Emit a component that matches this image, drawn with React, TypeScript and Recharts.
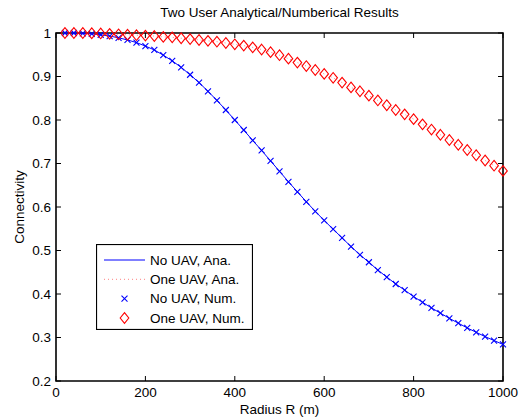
import React from 'react';
import { LineChart, Line, XAxis, YAxis, ReferenceArea, Legend } from 'recharts';

const radius = [
  20, 40, 60, 80, 100, 120, 140, 160, 180, 200,
  220, 240, 260, 280, 300, 320, 340, 360, 380, 400,
  420, 440, 460, 480, 500, 520, 540, 560, 580, 600,
  620, 640, 660, 680, 700, 720, 740, 760, 780, 800,
  820, 840, 860, 880, 900, 920, 940, 960, 980, 1000,
];

const noUav = [
  1.0, 1.0, 0.999, 0.998, 0.996, 0.993, 0.989, 0.984, 0.978, 0.970,
  0.961, 0.949, 0.936, 0.921, 0.904, 0.886, 0.866, 0.845, 0.823, 0.800,
  0.777, 0.753, 0.730, 0.706, 0.682, 0.658, 0.635, 0.612, 0.590, 0.569,
  0.549, 0.529, 0.509, 0.490, 0.473, 0.455, 0.439, 0.423, 0.409, 0.394,
  0.381, 0.368, 0.356, 0.344, 0.333, 0.322, 0.312, 0.302, 0.293, 0.284,
];

const oneUav = [
  1.0, 1.0, 1.0, 0.9995, 0.999, 0.998, 0.997, 0.996, 0.995, 0.994,
  0.993, 0.991, 0.990, 0.988, 0.986, 0.984, 0.982, 0.980, 0.977, 0.974,
  0.971, 0.967, 0.962, 0.956, 0.949, 0.941, 0.932, 0.924, 0.915, 0.906,
  0.897, 0.886, 0.875, 0.866, 0.856, 0.845, 0.834, 0.823, 0.813, 0.802,
  0.790, 0.778, 0.766, 0.754, 0.743, 0.731, 0.719, 0.707, 0.695, 0.683,
];

const xTicks = [0, 200, 400, 600, 800, 1000];
const yTicks = [0.2, 0.3, 0.4, 0.5, 0.6, 0.7, 0.8, 0.9, 1];

const titleText = 'Two User Analytical/Numberical Results';
const xLabel = 'Radius R (m)';
const yLabel = 'Connectivity';
const seriesNames = ['No UAV, Ana.', 'One UAV, Ana.', 'No UAV, Num.', 'One UAV, Num.'];

const data = radius.map((r, i) => ({ r, noUav: noUav[i], oneUav: oneUav[i] }));

const W = 522;
const H = 419;
const PLOT_LEFT = 56;
const PLOT_RIGHT = 503;
const PLOT_TOP = 33;
const PLOT_BOTTOM = 381;
const FONT = '"Liberation Sans", Arial, Helvetica, sans-serif';
const FS = 13.5;
const BLUE = '#0000ff';
const RED = '#ff0000';
const TICK_LEN = 5;

const crossPath = (cx: number, cy: number, s: number) =>
  `M${cx - s},${cy - s}L${cx + s},${cy + s}M${cx - s},${cy + s}L${cx + s},${cy - s}`;
const diamondPath = (cx: number, cy: number, w: number, h: number) =>
  `M${cx},${cy - h}L${cx + w},${cy}L${cx},${cy + h}L${cx - w},${cy}Z`;

const CrossDot = (props: any) => {
  const { cx, cy, index } = props;
  if (cx == null || cy == null) return <g key={`x-${index}`} />;
  return <path key={`x-${index}`} d={crossPath(cx, cy, 3)} stroke={BLUE} strokeWidth={1.1} fill="none" />;
};

const DiamondDot = (props: any) => {
  const { cx, cy, index } = props;
  if (cx == null || cy == null) return <g key={`d-${index}`} />;
  return <path key={`d-${index}`} d={diamondPath(cx, cy, 4.3, 5.3)} stroke={RED} strokeWidth={1.1} fill="none" />;
};

const XTick = (props: any) => {
  const { x, payload } = props;
  return (
    <g>
      <line x1={x} x2={x} y1={PLOT_BOTTOM} y2={PLOT_BOTTOM - TICK_LEN} stroke="#000" strokeWidth={1} />
      <line x1={x} x2={x} y1={PLOT_TOP} y2={PLOT_TOP + TICK_LEN} stroke="#000" strokeWidth={1} />
      <text x={x} y={PLOT_BOTTOM + 15.5} textAnchor="middle" fontFamily={FONT} fontSize={FS} fill="#000">
        {String(payload.value)}
      </text>
    </g>
  );
};

const YTick = (props: any) => {
  const { x, y, payload } = props;
  return (
    <g>
      <line x1={PLOT_LEFT} x2={PLOT_LEFT + TICK_LEN} y1={y} y2={y} stroke="#000" strokeWidth={1} />
      <line x1={PLOT_RIGHT} x2={PLOT_RIGHT - TICK_LEN} y1={y} y2={y} stroke="#000" strokeWidth={1} />
      <text x={x} y={y + 4.8} textAnchor="end" fontFamily={FONT} fontSize={FS} fill="#000">
        {String(payload.value)}
      </text>
    </g>
  );
};

const LegendBox = () => {
  const w = 156;
  const h = 85;
  const rows = [16, 35.3, 54.6, 74];
  const lx1 = 8;
  const lx2 = 49;
  const mx = 28.5;
  const tx = 54;
  return (
    <svg width={w + 1} height={h + 1} style={{ display: 'block' }}>
      <rect x={0.5} y={0.5} width={w} height={h} fill="#fff" stroke="#000" strokeWidth={1.2} />
      <line x1={lx1} x2={lx2} y1={rows[0]} y2={rows[0]} stroke={BLUE} strokeWidth={1} />
      <line x1={lx1} x2={lx2} y1={rows[1]} y2={rows[1]} stroke={RED} strokeOpacity={0.5} strokeWidth={1} strokeDasharray="1 3" />
      <path d={crossPath(mx, rows[2], 3)} stroke={BLUE} strokeWidth={1.1} fill="none" />
      <path d={diamondPath(mx, rows[3], 4.3, 5.3)} stroke={RED} strokeWidth={1.1} fill="none" />
      {seriesNames.map((n, i) => (
        <text key={n} x={tx} y={rows[i] + 4.8} fontFamily={FONT} fontSize={FS} fill="#000">
          {n}
        </text>
      ))}
    </svg>
  );
};

export default function App() {
  return (
    <div style={{ position: 'absolute', left: 0, top: 0, width: W, height: H, background: '#fff' }}>
      <div
        style={{
          position: 'absolute',
          left: PLOT_LEFT,
          width: PLOT_RIGHT - PLOT_LEFT,
          top: 4,
          lineHeight: '17px',
          textAlign: 'center',
          fontFamily: FONT,
          fontSize: FS,
          color: '#000',
          zIndex: 2,
        }}
      >
        {titleText}
      </div>
      <LineChart
        width={W}
        height={H}
        data={data}
        margin={{ top: PLOT_TOP, right: W - PLOT_RIGHT, bottom: 0, left: 0 }}
      >
        <XAxis
          type="number"
          dataKey="r"
          domain={[0, 1000]}
          ticks={xTicks}
          interval={0}
          height={H - PLOT_BOTTOM}
          axisLine={false}
          tickLine={false}
          tickSize={0}
          tickMargin={0}
          tick={(p: any) => <XTick {...p} />}
          label={{
            content: (p: any) => {
              const vb = p.viewBox || { x: PLOT_LEFT, width: PLOT_RIGHT - PLOT_LEFT };
              return (
                <text
                  x={vb.x + vb.width / 2}
                  y={414}
                  textAnchor="middle"
                  fontFamily={FONT}
                  fontSize={FS}
                  fill="#000"
                >
                  {xLabel}
                </text>
              );
            },
          }}
        />
        <YAxis
          type="number"
          domain={[0.2, 1]}
          ticks={yTicks}
          interval={0}
          width={PLOT_LEFT}
          axisLine={false}
          tickLine={false}
          tickSize={0}
          tickMargin={5}
          tick={(p: any) => <YTick {...p} />}
          label={{
            content: (p: any) => {
              const vb = p.viewBox || { y: PLOT_TOP, height: PLOT_BOTTOM - PLOT_TOP };
              const cx = 19;
              const cy = vb.y + vb.height / 2;
              return (
                <text
                  x={cx}
                  y={cy}
                  transform={`rotate(-90 ${cx} ${cy})`}
                  textAnchor="middle"
                  dominantBaseline="central"
                  fontFamily={FONT}
                  fontSize={FS}
                  fill="#000"
                >
                  {yLabel}
                </text>
              );
            },
          }}
        />
        <ReferenceArea x1={0} x2={1000} y1={0.2} y2={1} fill="none" stroke="#000" strokeWidth={1.6} />
        <Line
          type="linear"
          dataKey="noUav"
          name={seriesNames[0]}
          stroke={BLUE}
          strokeWidth={1}
          dot={false}
          activeDot={false}
          isAnimationActive={false}
        />
        <Line
          type="linear"
          dataKey="oneUav"
          name={seriesNames[1]}
          stroke={RED}
          strokeOpacity={0.5}
          strokeWidth={1}
          strokeDasharray="1 3"
          dot={false}
          activeDot={false}
          isAnimationActive={false}
        />
        <Line
          type="linear"
          dataKey="noUav"
          name={seriesNames[2]}
          stroke="none"
          dot={(p: any) => <CrossDot {...p} />}
          activeDot={false}
          isAnimationActive={false}
        />
        <Line
          type="linear"
          dataKey="oneUav"
          name={seriesNames[3]}
          stroke="none"
          dot={(p: any) => <DiamondDot {...p} />}
          activeDot={false}
          isAnimationActive={false}
        />
        <Legend
          layout="vertical"
          align="center"
          verticalAlign="middle"
          content={() => <LegendBox />}
          wrapperStyle={{ left: 96, top: 244, width: 157, height: 86, position: 'absolute' }}
        />
      </LineChart>
    </div>
  );
}
